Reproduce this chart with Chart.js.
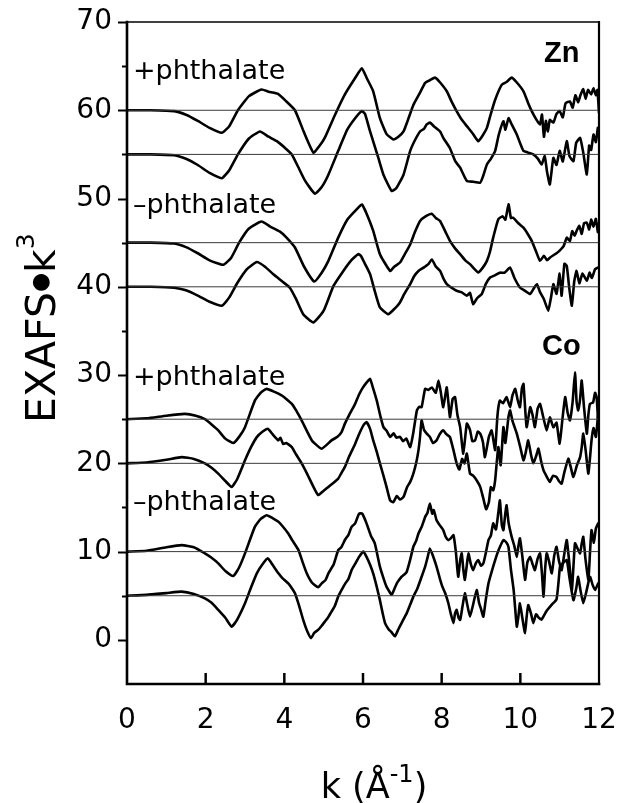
<!DOCTYPE html>
<html>
<head>
<meta charset="utf-8">
<script src="https://cdn.jsdelivr.net/npm/chart.js@4.4.1/dist/chart.umd.min.js"></script>
<style>
html,body{margin:0;padding:0;background:#fff;}
#wrap{width:623px;height:803px;}
</style>
</head>
<body>
<div id="wrap"><canvas id="c" width="623" height="803"></canvas></div>
<script>
// ---- data: [k, EXAFS*k^3 (offset)] ----
const xTickLabels = [0, 2, 4, 6, 8, 10, 12];
const yTickLabels = [0, 10, 20, 30, 40, 50, 60, 70];
const baselines = [60, 55, 45, 40, 25, 20, 10, 5];
const groupLabels = ["Zn", "Co"];
const sampleLabels = ["+phthalate", "\u2013phthalate", "+phthalate", "\u2013phthalate"];

const znPlusUpper = [[0,60],[0.6,60],[1.2,59.9],[1.5,59.5],[1.8,58.8],[2.1,58.0],[2.41,57.45],[2.6,58.2],[2.82,60],[3.1,61.6],[3.42,62.35],[3.6,62.1],[3.84,61.85],[4.05,61.0],[4.27,60],[4.5,57.5],[4.74,55.2],[4.9,56.0],[5.03,56.9],[5.29,59.5],[5.54,61.8],[5.8,63.65],[5.97,64.75],[6.1,63.6],[6.26,62.15],[6.43,59.1],[6.6,57.3],[6.77,56.7],[6.9,57.0],[7.03,57.6],[7.15,59.0],[7.28,60.6],[7.45,62.0],[7.58,63.1],[7.7,63.4],[7.83,63.7],[7.95,63.2],[8.13,62.15],[8.25,61.0],[8.38,59.9],[8.5,59.0],[8.64,58.2],[8.8,57.3],[8.93,56.5],[9.05,57.2],[9.15,58.0],[9.25,59.6],[9.36,61.2],[9.53,62.9],[9.65,63.2],[9.78,63.7],[9.9,63.2],[10.08,62.15],[10.2,60.8],[10.29,59.9],[10.4,59.0],[10.5,58.4],[10.55,59.5],[10.6,57.0],[10.65,58.8],[10.7,57.6],[10.75,58.9],[10.84,58.6],[10.92,59.6],[11.0,59.9],[11.08,59.2],[11.15,60.8],[11.26,61.0],[11.33,60.3],[11.4,61.7],[11.47,60.9],[11.52,61.6],[11.6,62.4],[11.66,61.3],[11.72,62.3],[11.8,61.8],[11.86,62.5],[11.92,61.7],[11.96,62.3],[12.0,59.7]];

const znPlusLower = [[0,55],[0.6,55],[1.2,54.9],[1.5,54.5],[1.8,53.8],[2.1,52.9],[2.41,52.3],[2.6,53.2],[2.82,55],[3.1,56.8],[3.38,57.6],[3.6,57.0],[3.81,56.5],[4.0,55.8],[4.19,55.0],[4.35,53.6],[4.53,52.0],[4.78,50.55],[4.95,51.3],[5.12,52.7],[5.37,55.4],[5.6,57.8],[5.8,59.1],[5.97,59.9],[6.05,59.6],[6.18,57.6],[6.39,54.6],[6.52,52.7],[6.73,50.85],[6.85,51.2],[7.03,52.7],[7.2,55.4],[7.32,56.6],[7.45,57.6],[7.55,57.9],[7.62,58.4],[7.7,58.6],[7.8,58.2],[7.96,57.6],[8.05,56.8],[8.21,55.7],[8.35,54.2],[8.47,53.5],[8.64,52.0],[8.8,51.9],[8.98,51.8],[9.05,52.5],[9.15,53.85],[9.25,54.5],[9.36,55.4],[9.45,57.2],[9.57,58.76],[9.62,57.8],[9.7,59.1],[9.78,58.4],[9.91,57.25],[10.0,56.2],[10.08,55.4],[10.2,55.2],[10.33,55.0],[10.45,54.5],[10.54,53.85],[10.62,54.8],[10.68,53.0],[10.75,51.6],[10.84,54.6],[10.92,53.8],[11.0,55.4],[11.08,54.2],[11.18,56.5],[11.25,54.8],[11.35,54.24],[11.42,56.3],[11.52,56.87],[11.6,55.2],[11.69,52.73],[11.75,56.0],[11.8,55.5],[11.86,57.25],[11.92,56.4],[11.97,58.0]];

const znMinusUpper = [[0,45],[0.6,45],[1.2,44.9],[1.5,44.5],[1.8,43.8],[2.1,43.0],[2.45,42.5],[2.65,43.3],[2.85,45.0],[3.1,46.6],[3.42,47.4],[3.65,46.8],[3.89,46.25],[4.05,45.6],[4.27,44.45],[4.5,42.3],[4.76,40.6],[4.95,41.6],[5.12,42.94],[5.37,45.57],[5.6,47.6],[5.88,48.96],[5.97,49.34],[6.1,48.2],[6.26,46.33],[6.43,43.7],[6.69,41.8],[6.8,42.3],[6.94,42.75],[7.05,43.6],[7.2,44.8],[7.32,46.2],[7.45,47.46],[7.6,48.0],[7.75,48.28],[7.85,47.8],[7.96,47.46],[8.1,46.2],[8.21,45.2],[8.35,44.3],[8.47,43.7],[8.6,43.0],[8.72,42.57],[8.93,41.62],[9.05,42.2],[9.15,42.94],[9.23,44.0],[9.31,45.57],[9.44,47.65],[9.55,48.0],[9.62,47.6],[9.7,49.34],[9.76,47.8],[9.82,47.83],[9.95,47.2],[10.08,46.7],[10.2,45.9],[10.29,45.2],[10.4,44.0],[10.5,42.94],[10.6,43.5],[10.68,43.0],[10.75,43.3],[10.85,43.6],[10.92,43.8],[11.0,44.1],[11.1,44.6],[11.18,45.57],[11.26,45.2],[11.32,46.3],[11.38,45.8],[11.43,46.33],[11.5,46.9],[11.56,46.0],[11.62,47.2],[11.69,47.26],[11.75,46.5],[11.8,47.6],[11.86,46.8],[11.92,47.7],[11.97,46.2]];

const znMinusLower = [[0,40],[0.6,40],[1.2,39.9],[1.5,39.6],[1.8,39.0],[2.1,38.3],[2.41,37.85],[2.6,38.8],[2.8,40.4],[3.05,42.0],[3.3,42.8],[3.5,42.3],[3.72,41.43],[3.95,40.6],[4.14,39.9],[4.3,38.6],[4.48,36.9],[4.74,35.97],[5.0,37.3],[5.25,40.1],[5.5,41.8],[5.7,43.0],[5.88,43.7],[5.95,43.5],[6.05,42.6],[6.18,41.43],[6.3,39.5],[6.43,37.66],[6.64,36.9],[6.8,37.5],[6.94,38.23],[7.05,39.2],[7.2,40.3],[7.3,41.2],[7.41,41.8],[7.55,42.2],[7.66,42.56],[7.75,43.1],[7.85,42.3],[7.96,41.8],[8.05,40.9],[8.13,40.3],[8.25,39.9],[8.38,39.55],[8.5,39.4],[8.64,39.0],[8.72,39.3],[8.8,38.04],[8.9,38.7],[9.02,39.18],[9.12,40.3],[9.23,41.05],[9.35,41.3],[9.48,41.6],[9.6,41.6],[9.74,42.18],[9.85,41.0],[9.99,39.92],[10.1,39.6],[10.25,39.18],[10.34,39.8],[10.42,40.3],[10.5,39.4],[10.6,38.6],[10.71,37.3],[10.78,38.8],[10.84,40.3],[10.92,39.2],[11.0,41.5],[11.05,39.0],[11.12,42.6],[11.18,42.37],[11.24,40.0],[11.31,37.85],[11.37,40.6],[11.43,41.8],[11.5,40.4],[11.58,41.5],[11.69,40.68],[11.76,41.6],[11.82,41.0],[11.9,42.0],[11.97,42.18]];

const coPlusUpper = [[0,25],[0.5,25.1],[1.0,25.4],[1.47,25.6],[1.75,25.4],[1.98,25.0],[2.15,24.4],[2.32,23.73],[2.5,22.8],[2.7,22.3],[2.85,23.0],[3.0,24.1],[3.25,27.1],[3.4,28.0],[3.55,28.44],[3.75,28.1],[3.93,27.7],[4.05,27.3],[4.19,26.74],[4.3,26.0],[4.44,24.86],[4.7,22.6],[4.95,21.66],[5.2,22.6],[5.35,23.0],[5.45,23.5],[5.54,24.5],[5.65,25.5],[5.8,26.74],[5.9,27.8],[6.0,28.6],[6.1,29.2],[6.18,29.57],[6.25,28.6],[6.35,27.1],[6.45,25.2],[6.52,24.1],[6.6,23.7],[6.69,23.0],[6.78,23.4],[6.85,22.9],[6.94,23.0],[7.02,22.5],[7.1,22.8],[7.2,21.84],[7.28,23.5],[7.37,26.0],[7.43,26.4],[7.49,26.36],[7.58,28.44],[7.66,28.3],[7.75,28.6],[7.85,28.0],[7.92,29.38],[7.98,28.0],[8.04,26.36],[8.13,28.6],[8.21,25.23],[8.28,27.3],[8.34,27.5],[8.4,25.5],[8.47,24.1],[8.55,21.1],[8.64,24.5],[8.72,23.8],[8.78,22.5],[8.85,22.6],[8.92,23.6],[8.98,23.36],[9.05,22.4],[9.1,20.7],[9.2,23.0],[9.27,23.73],[9.32,22.5],[9.36,21.5],[9.42,25.5],[9.48,27.1],[9.56,26.8],[9.65,27.5],[9.74,26.36],[9.8,27.7],[9.87,28.44],[9.93,27.2],[9.99,26.36],[10.04,28.5],[10.08,29.0],[10.16,24.1],[10.25,26.36],[10.31,25.5],[10.37,24.1],[10.44,26.2],[10.5,26.74],[10.58,25.3],[10.67,23.73],[10.75,25.2],[10.84,24.1],[10.92,24.6],[11.0,22.23],[11.07,25.0],[11.14,27.5],[11.2,25.8],[11.26,24.86],[11.33,27.0],[11.39,30.3],[11.43,27.0],[11.47,26.0],[11.52,27.3],[11.56,29.38],[11.62,26.3],[11.69,23.36],[11.73,25.5],[11.77,26.74],[11.85,26.9],[11.9,28.0],[11.94,27.5],[11.98,24.5]];

const coPlusLower = [[0,20],[0.5,20.1],[1.0,20.4],[1.39,20.7],[1.7,20.5],[1.98,20.0],[2.15,19.5],[2.32,18.84],[2.5,18.0],[2.66,17.33],[2.8,18.2],[3.0,20.34],[3.15,21.8],[3.3,22.97],[3.45,23.6],[3.58,23.92],[3.7,23.3],[3.85,22.6],[3.9,22.9],[3.97,22.2],[4.05,22.3],[4.19,21.84],[4.3,21.0],[4.44,20.0],[4.57,18.9],[4.7,17.7],[4.86,16.4],[5.0,16.9],[5.12,17.33],[5.25,17.8],[5.37,18.27],[5.45,18.9],[5.54,19.6],[5.65,20.8],[5.8,22.2],[5.9,23.3],[6.01,24.3],[6.09,24.67],[6.18,23.9],[6.26,22.6],[6.35,21.3],[6.43,20.0],[6.52,18.6],[6.6,17.3],[6.69,15.8],[6.77,15.6],[6.86,16.3],[6.94,15.9],[7.03,16.2],[7.12,17.3],[7.2,17.9],[7.28,18.84],[7.35,20.0],[7.41,21.47],[7.45,23.0],[7.49,24.86],[7.55,23.8],[7.62,23.36],[7.7,23.0],[7.78,22.3],[7.87,22.6],[7.95,23.3],[8.04,23.73],[8.12,23.3],[8.21,22.97],[8.3,21.5],[8.38,20.0],[8.45,19.3],[8.52,20.5],[8.58,20.0],[8.64,21.1],[8.72,18.84],[8.8,18.6],[8.9,18.0],[8.98,17.33],[9.06,16.0],[9.13,14.8],[9.2,15.6],[9.25,17.3],[9.31,16.95],[9.36,18.1],[9.44,21.84],[9.5,19.8],[9.57,24.1],[9.62,22.3],[9.7,25.3],[9.74,26.0],[9.8,24.8],[9.91,23.36],[10.0,21.8],[10.08,20.34],[10.14,21.3],[10.2,22.6],[10.27,21.0],[10.33,20.0],[10.4,20.8],[10.46,21.66],[10.53,20.2],[10.59,19.2],[10.67,18.5],[10.75,17.9],[10.83,18.6],[10.92,18.45],[10.98,18.0],[11.05,17.7],[11.12,19.0],[11.22,20.53],[11.28,19.6],[11.35,18.45],[11.44,19.8],[11.52,20.71],[11.56,21.8],[11.6,23.36],[11.66,21.5],[11.73,18.84],[11.81,22.6],[11.86,24.0],[11.92,23.0],[11.98,25.6]];

const coMinusUpper = [[0,10],[0.5,10.1],[1.0,10.5],[1.39,10.73],[1.7,10.5],[1.98,9.8],[2.15,9.3],[2.32,8.67],[2.5,7.8],[2.7,7.23],[2.85,8.2],[3.0,9.8],[3.25,12.8],[3.4,13.7],[3.55,14.12],[3.7,13.8],[3.85,13.37],[3.95,12.9],[4.1,12.05],[4.2,11.3],[4.36,10.17],[4.45,9.0],[4.57,7.54],[4.7,6.5],[4.86,5.96],[4.95,6.4],[5.05,6.8],[5.12,7.54],[5.25,8.5],[5.37,10.17],[5.45,10.5],[5.55,11.4],[5.63,11.9],[5.71,12.8],[5.8,13.2],[5.9,14.3],[5.98,14.3],[6.09,13.2],[6.2,11.8],[6.3,10.93],[6.43,8.3],[6.52,7.0],[6.6,6.0],[6.73,5.1],[6.8,5.8],[6.86,6.4],[6.92,6.8],[6.98,7.15],[7.05,7.4],[7.11,7.7],[7.2,9.1],[7.28,10.55],[7.35,11.2],[7.41,12.05],[7.5,12.9],[7.58,13.93],[7.64,14.4],[7.7,15.44],[7.76,14.3],[7.8,14.7],[7.87,13.56],[7.95,13.0],[8.04,12.43],[8.1,11.7],[8.17,11.3],[8.23,11.5],[8.3,11.86],[8.36,10.0],[8.42,7.15],[8.47,9.0],[8.51,9.8],[8.55,8.0],[8.59,6.8],[8.64,8.5],[8.68,9.8],[8.74,8.6],[8.8,7.9],[8.87,8.7],[8.93,9.04],[9.0,8.4],[9.06,8.67],[9.12,9.8],[9.19,11.3],[9.25,11.8],[9.31,13.2],[9.38,12.5],[9.44,14.4],[9.48,15.8],[9.53,13.0],[9.57,12.43],[9.61,14.0],[9.65,15.25],[9.7,13.3],[9.78,11.67],[9.85,10.6],[9.91,9.4],[9.95,10.6],[9.99,11.5],[10.05,9.5],[10.12,6.8],[10.18,8.8],[10.25,9.4],[10.31,8.6],[10.37,7.9],[10.44,9.2],[10.5,9.8],[10.55,7.5],[10.59,4.9],[10.63,8.0],[10.67,9.8],[10.73,8.9],[10.8,7.54],[10.86,9.5],[10.92,10.55],[10.98,9.0],[11.05,7.9],[11.12,9.8],[11.18,11.3],[11.25,8.5],[11.31,5.65],[11.35,8.3],[11.39,10.93],[11.45,10.4],[11.52,9.8],[11.56,10.9],[11.6,11.67],[11.66,9.0],[11.73,6.8],[11.77,9.8],[11.81,12.43],[11.87,11.0],[11.92,12.6],[11.98,13.2]];

const coMinusLower = [[0,5],[0.5,5.1],[1.0,5.3],[1.39,5.46],[1.7,5.2],[1.98,4.7],[2.15,4.2],[2.32,3.4],[2.5,2.5],[2.66,1.5],[2.8,2.3],[3.0,4.15],[3.15,5.9],[3.3,7.54],[3.45,8.6],[3.58,9.23],[3.7,8.5],[3.85,7.54],[3.95,7.0],[4.1,6.4],[4.2,5.8],[4.27,5.28],[4.38,3.8],[4.48,2.26],[4.58,1.0],[4.68,0.2],[4.76,0.8],[4.86,1.13],[4.95,1.6],[5.03,2.07],[5.12,2.6],[5.2,3.2],[5.28,3.8],[5.37,4.9],[5.45,5.6],[5.55,6.4],[5.63,6.9],[5.71,7.9],[5.8,8.6],[5.9,9.4],[6.01,10.0],[6.09,9.4],[6.18,8.5],[6.26,7.5],[6.35,6.0],[6.43,4.5],[6.5,3.0],[6.56,1.9],[6.65,1.2],[6.72,0.9],[6.81,0.4],[6.9,1.2],[6.98,1.9],[7.05,2.5],[7.11,3.0],[7.2,4.0],[7.28,4.9],[7.38,5.8],[7.49,7.15],[7.58,8.3],[7.64,9.3],[7.7,10.36],[7.78,9.5],[7.87,8.3],[7.95,7.0],[8.02,6.0],[8.09,5.28],[8.17,4.15],[8.23,3.0],[8.3,1.9],[8.34,3.0],[8.38,3.4],[8.43,2.5],[8.47,2.26],[8.53,3.8],[8.59,5.28],[8.65,4.0],[8.72,2.63],[8.8,4.0],[8.89,5.65],[8.95,4.2],[9.0,3.5],[9.06,2.63],[9.12,4.5],[9.19,6.4],[9.27,7.7],[9.36,9.04],[9.45,10.2],[9.57,11.3],[9.65,11.0],[9.7,10.5],[9.76,8.0],[9.83,5.65],[9.87,3.5],[9.91,1.5],[9.95,2.6],[9.99,4.15],[10.05,2.5],[10.12,0.76],[10.16,2.6],[10.2,3.95],[10.27,3.0],[10.33,1.9],[10.4,2.9],[10.47,2.5],[10.54,2.3],[10.67,3.3],[10.8,4.0],[10.92,4.6],[10.97,6.5],[11.01,8.3],[11.08,8.7],[11.18,9.04],[11.25,7.0],[11.35,4.5],[11.42,5.8],[11.47,7.15],[11.53,5.6],[11.6,4.15],[11.68,5.5],[11.77,7.15],[11.84,6.2],[11.9,5.65],[11.98,6.4]];

const curves = [znPlusUpper, znPlusLower, znMinusUpper, znMinusLower, coPlusUpper, coPlusLower, coMinusUpper, coMinusLower];

// ---- build datasets ----
const FONT = '"DejaVu Sans", "Liberation Sans", sans-serif';
const toXY = arr => arr.map(p => ({x: p[0], y: p[1]}));
const datasets = [];
baselines.forEach(b => {
  datasets.push({data: [{x: 0, y: b}, {x: 12, y: b}], borderColor: '#3a3a3a', borderWidth: 1, pointRadius: 0, tension: 0});
});
curves.forEach(c => {
  datasets.push({data: toXY(c), borderColor: '#000', borderWidth: 2.6, pointRadius: 0, tension: 0.15, borderJoinStyle: 'round', borderCapStyle: 'round'});
});

const frameAndText = {
  id: 'frameAndText',
  afterDraw(chart) {
    const {ctx, chartArea: a, scales: {x, y}} = chart;
    ctx.save();
    ctx.strokeStyle = '#000';
    ctx.lineCap = 'square';
    // frame
    ctx.lineWidth = 2.6;
    ctx.beginPath(); ctx.moveTo(a.left, a.top); ctx.lineTo(a.left, a.bottom); ctx.lineTo(a.right, a.bottom); ctx.stroke();
    ctx.lineWidth = 1.6;
    ctx.beginPath(); ctx.moveTo(a.left, a.top); ctx.lineTo(a.right, a.top); ctx.stroke();
    ctx.lineWidth = 2.2;
    ctx.beginPath(); ctx.moveTo(a.right, a.top); ctx.lineTo(a.right, a.bottom); ctx.stroke();
    // y ticks (outside, every 5)
    ctx.lineWidth = 2;
    ctx.lineCap = 'butt';
    for (let v = 0; v <= 70; v += 5) {
      const py = Math.round(y.getPixelForValue(v)) + 0.5;
      const len = (v % 10 === 0) ? 9 : 5;
      ctx.beginPath(); ctx.moveTo(a.left - len, py); ctx.lineTo(a.left, py); ctx.stroke();
    }
    // x ticks (inside)
    ctx.lineWidth = 2.5;
    xTickLabels.forEach(v => {
      if (v === 0 || v === 12) return;
      const px = x.getPixelForValue(v);
      ctx.beginPath(); ctx.moveTo(px, a.bottom); ctx.lineTo(px, a.bottom - 11); ctx.stroke();
    });
    // sample labels
    ctx.fillStyle = '#000';
    ctx.textAlign = 'left';
    ctx.textBaseline = 'alphabetic';
    ctx.font = '27px ' + FONT;
    const lblPos = [[0.15, 63.5], [0.15, 48.4], [0.15, 28.9], [0.15, 14.7]];
    sampleLabels.forEach((t, i) => {
      ctx.fillText(t, x.getPixelForValue(lblPos[i][0]), y.getPixelForValue(lblPos[i][1]));
    });
    ctx.font = 'bold 29px "Liberation Sans", "DejaVu Sans", sans-serif';
    ctx.fillText(groupLabels[0], x.getPixelForValue(10.6), y.getPixelForValue(65.5));
    ctx.fillText(groupLabels[1], x.getPixelForValue(10.55), y.getPixelForValue(32.3));
    // y title
    ctx.save();
    ctx.translate(55, 423);
    ctx.rotate(-Math.PI / 2);
    let cx = 0;
    ctx.font = '41px ' + FONT;
    ctx.fillText('EXAFS', cx, 0); cx += ctx.measureText('EXAFS').width;
    ctx.font = '22px ' + FONT;
    ctx.fillText('\u25CF', cx, -8); cx += ctx.measureText('\u25CF').width;
    ctx.font = '41px ' + FONT;
    ctx.fillText('k', cx, 0); cx += ctx.measureText('k').width;
    ctx.font = '25px ' + FONT;
    ctx.fillText('3', cx, -21);
    ctx.restore();
    // x title
    const parts = [['k (\u00C5', '35px', 0], ['-1', '24px', -16], [')', '35px', 0]];
    let total = 0;
    parts.forEach(p => { ctx.font = p[1] + ' ' + FONT; total += ctx.measureText(p[0]).width; });
    let tx = 374 - total / 2;
    parts.forEach(p => { ctx.font = p[1] + ' ' + FONT; ctx.fillText(p[0], tx, 798 + p[2]); tx += ctx.measureText(p[0]).width; });
    ctx.restore();
  }
};

new Chart(document.getElementById('c'), {
  type: 'line',
  data: {datasets},
  options: {
    responsive: false,
    devicePixelRatio: 1,
    animation: false,
    events: [],
    layout: {padding: {top: 22, right: 24, left: 0, bottom: 0}},
    plugins: {legend: {display: false}, tooltip: {enabled: false}},
    scales: {
      x: {
        type: 'linear', min: 0, max: 12,
        afterFit: s => { s.height = 119; s.paddingLeft = 0; s.paddingRight = 0; },
        afterBuildTicks: s => { s.ticks = xTickLabels.map(v => ({value: v})); },
        grid: {display: false, drawTicks: false},
        border: {display: false},
        ticks: {color: '#000', font: {family: FONT, size: 28}, padding: 20, maxRotation: 0, autoSkip: false,
                callback: v => String(v)}
      },
      y: {
        type: 'linear', min: -5, max: 70,
        afterFit: s => { s.width = 127; s.paddingTop = 0; s.paddingBottom = 0; },
        afterBuildTicks: s => { s.ticks = yTickLabels.map(v => ({value: v})); },
        grid: {display: false, drawTicks: false},
        border: {display: false},
        ticks: {color: '#000', font: {family: FONT, size: 28}, padding: 15, autoSkip: false,
                callback: v => String(v)}
      }
    }
  },
  plugins: [frameAndText]
});
</script>
</body>
</html>
